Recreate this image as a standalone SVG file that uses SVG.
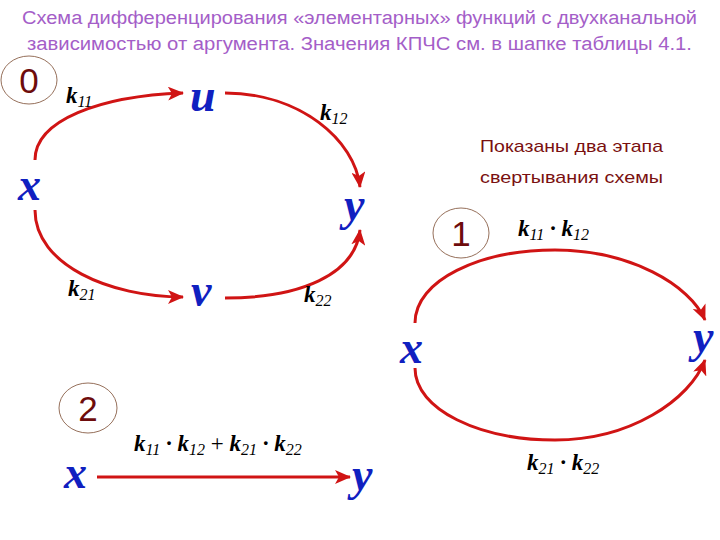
<svg xmlns="http://www.w3.org/2000/svg" width="720" height="540" viewBox="0 0 720 540">
<style>
.title{font-family:"Liberation Sans",Arial,sans-serif;font-size:18px;fill:#a45ec8}
.note{font-family:"Liberation Sans",Arial,sans-serif;font-size:17px;fill:#7a1010}
.num{font-family:"Liberation Sans",Arial,sans-serif;font-size:35px;fill:#6e0c0c}
.ring{fill:none;stroke:#7a4a30;stroke-width:0.8}
.var{font-family:"Liberation Serif","Times New Roman",serif;font-weight:bold;font-style:italic;font-size:46px;fill:#1020c0}
.k{font-family:"Liberation Serif","Times New Roman",serif;font-weight:bold;font-style:italic;font-size:23px;fill:#000}
.sub{font-size:16px;font-weight:normal}
.edge{fill:none;stroke:#d01414;stroke-width:3;marker-end:url(#ah)}
</style>
<defs>
<marker id="ah" markerUnits="userSpaceOnUse" markerWidth="16" markerHeight="14" viewBox="0 0 16 14" refX="15" refY="7" orient="auto">
<path d="M0,0 L16,7 L0,14 L4,7 Z" fill="#d01414"/>
</marker>
</defs>
<rect width="720" height="540" fill="#fff"/>
<text class="title" x="22" y="24" textLength="675" lengthAdjust="spacingAndGlyphs">Схема дифференцирования «элементарных» функций с двухканальной</text>
<text class="title" x="27" y="50" textLength="665" lengthAdjust="spacingAndGlyphs">зависимостью от аргумента.   Значения КПЧС см. в шапке таблицы 4.1.</text>

<g id="connectors">
<path class="edge" d="M35,160 C35,120 100,96 183,93"/>
<path class="edge" d="M225,93 C300,93 355,140 360,187"/>
<path class="edge" d="M35,210 C35,265 110,297 183,297"/>
<path class="edge" d="M225,298 C300,298 355,275 360,230"/>
<path class="edge" d="M415,323 C415,280 480,250 555,250 C630,250 690,285 705,320"/>
<path class="edge" d="M415,368 C415,410 480,440 555,440 C630,440 690,400 705,360"/>
<path class="edge" d="M97,477 L350,477"/>
</g>

<g id="stage0">
<ellipse class="ring" cx="29" cy="80" rx="28" ry="24"/>
<text class="num" x="29" y="93" text-anchor="middle">0</text>
</g>
<g id="stage1">
<ellipse class="ring" cx="461" cy="233" rx="28" ry="25"/>
<text class="num" x="461" y="246" text-anchor="middle">1</text>
</g>
<g id="stage2">
<ellipse class="ring" cx="88" cy="408" rx="29" ry="25"/>
<text class="num" x="88" y="421" text-anchor="middle">2</text>
</g>

<g id="node-x0"><text class="var" x="18" y="200">x</text></g>
<g id="node-u"><text class="var" x="190" y="111">u</text></g>
<g id="node-v"><text class="var" x="191" y="306">v</text></g>
<g id="node-y0"><text class="var" x="344" y="220">y</text></g>
<g id="node-x1"><text class="var" x="400" y="363">x</text></g>
<g id="node-y1"><text class="var" x="693" y="352">y</text></g>
<g id="node-x2"><text class="var" x="64" y="488">x</text></g>
<g id="node-y2"><text class="var" x="352" y="490">y</text></g>

<g id="labels">
<text class="k" x="66" y="103">k<tspan class="sub" dy="4">11</tspan></text>
<text class="k" x="320" y="120">k<tspan class="sub" dy="4">12</tspan></text>
<text class="k" x="68" y="296">k<tspan class="sub" dy="4">21</tspan></text>
<text class="k" x="304" y="302">k<tspan class="sub" dy="4">22</tspan></text>
<text class="k" x="518" y="236">k<tspan class="sub" dy="4">11</tspan><tspan dy="-4"> · k</tspan><tspan class="sub" dy="4">12</tspan></text>
<text class="k" x="527" y="470">k<tspan class="sub" dy="4">21</tspan><tspan dy="-4"> · k</tspan><tspan class="sub" dy="4">22</tspan></text>
<text class="k" x="134" y="451">k<tspan class="sub" dy="4">11</tspan><tspan dy="-4"> · k</tspan><tspan class="sub" dy="4">12</tspan><tspan dy="-4" font-style="normal" font-weight="normal"> + </tspan><tspan>k</tspan><tspan class="sub" dy="4">21</tspan><tspan dy="-4"> · k</tspan><tspan class="sub" dy="4">22</tspan></text>
<text class="note" x="480" y="152" textLength="183" lengthAdjust="spacingAndGlyphs">Показаны два этапа</text>
<text class="note" x="480" y="183" textLength="183" lengthAdjust="spacingAndGlyphs">свертывания схемы</text>
</g>
</svg>
